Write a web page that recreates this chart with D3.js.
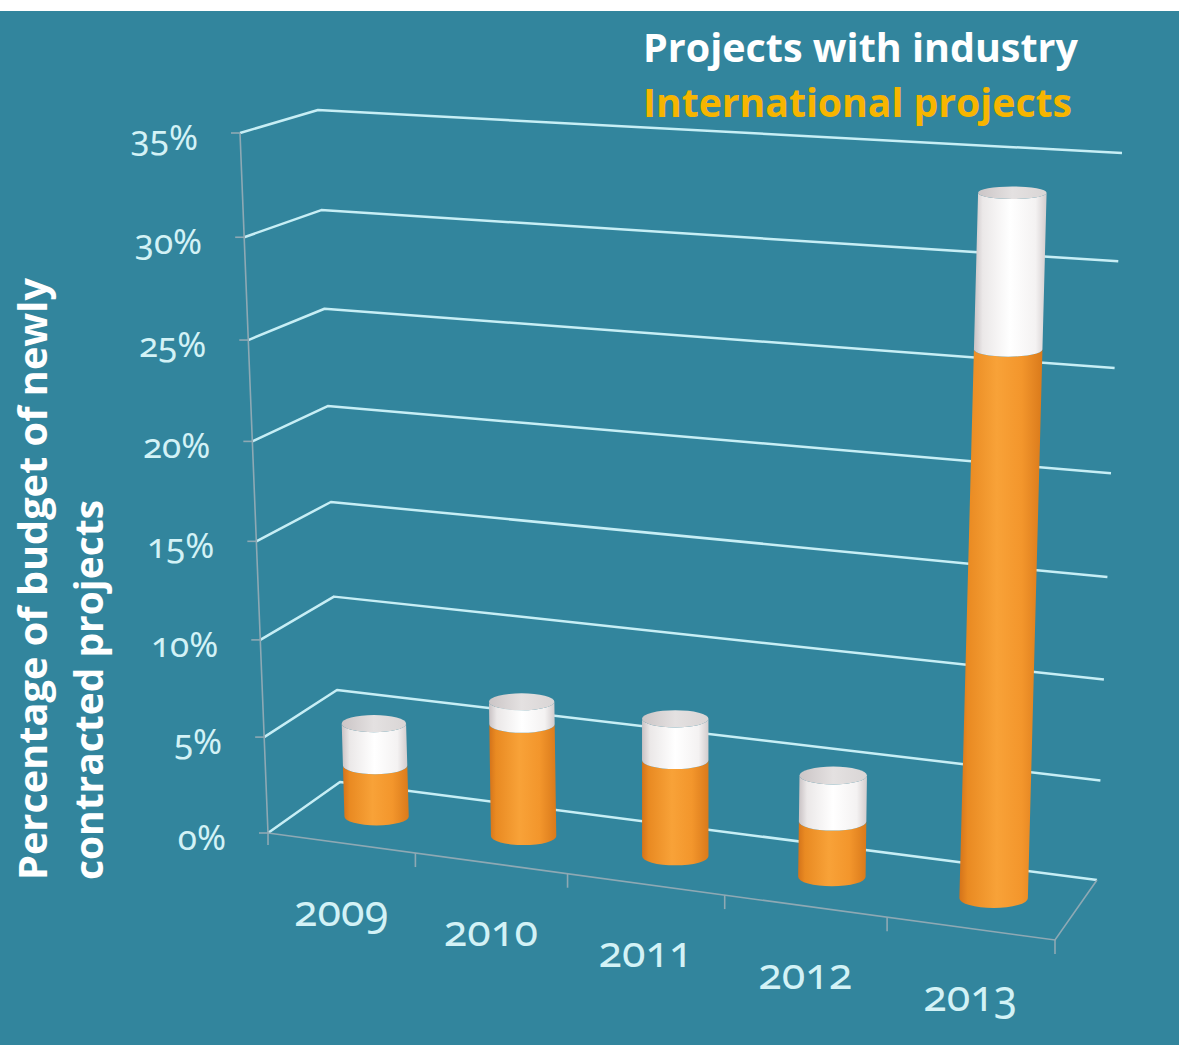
<!DOCTYPE html>
<html>
<head>
<meta charset="utf-8">
<script src="https://cdn.jsdelivr.net/npm/d3@7"></script>
<style>
  html, body { margin: 0; padding: 0; background: #fff; }
  svg { display: block; }
  .num { font-feature-settings: "onum" 1; font-variant-numeric: oldstyle-nums; }
</style>
</head>
<body>
<svg id="chart" width="1179" height="1045"></svg>
<script>
// chart data
const years = ["2009", "2010", "2011", "2012", "2013"];
const international = [2.7, 5.8, 4.9, 2.8, 26.4];   // orange, bottom part
const industry = [2.2, 1.15, 2.1, 2.3, 7.2];        // white, stacked on top
const yTicks = [0, 5, 10, 15, 20, 25, 30, 35];
const yTickLabels = ["0%", "5%", "10%", "15%", "20%", "25%", "30%", "35%"];
const legendLabels = ["Projects with industry", "International projects"];
const axisTitle = ["Percentage of budget of newly", "contracted projects"];

const width = 1179, height = 1045;
const svg = d3.select("#chart");

// background
svg.append("rect").attr("x", 0).attr("y", 11).attr("width", width).attr("height", height - 11)
    .attr("fill", "#32859d");

// square -> quad homography for the tilted floor
function homography(p0, p1, p2, p3) {
    const sx = p0[0] - p1[0] + p2[0] - p3[0], sy = p0[1] - p1[1] + p2[1] - p3[1];
    const dx1 = p1[0] - p2[0], dx2 = p3[0] - p2[0], dy1 = p1[1] - p2[1], dy2 = p3[1] - p2[1];
    const det = dx1 * dy2 - dx2 * dy1;
    const g = (sx * dy2 - dx2 * sy) / det;
    const h = (dx1 * sy - sx * dy1) / det;
    const a = p1[0] - p0[0] + g * p1[0], b = p3[0] - p0[0] + h * p3[0], c = p0[0];
    const d = p1[1] - p0[1] + g * p1[1], e = p3[1] - p0[1] + h * p3[1], f = p0[1];
    return (u, v) => {
        const w = g * u + h * v + 1;
        return [(a * u + b * v + c) / w, (d * u + e * v + f) / w];
    };
}

// floor corners: front-left, front-right, back-right, back-left
const floorCorners = [[268, 833], [1055, 940], [1097, 880], [340, 782]];
// same corners at the 35% level
const topCorners = [[240, 133], [1079, 183], [1122, 153], [318, 110]];
const floorPlane = homography(...floorCorners);
const vert = topCorners.map((p, i) => [p[0] - floorCorners[i][0], p[1] - floorCorners[i][1]]);

// vertical vector at (u, v): bilinear blend of the corner verticals
function vertical(u, v) {
    const w = [(1 - u) * (1 - v), u * (1 - v), u * v, (1 - u) * v];
    return [d3.sum(vert, (p, i) => p[0] * w[i]), d3.sum(vert, (p, i) => p[1] * w[i])];
}

const yScale = d3.scaleLinear().domain([0, 35]).range([0, 1]);
const xScale = d3.scaleBand().domain(years).range([0, 1]);
const persp = 1.05;
const vPersp = t => t / (persp - (persp - 1) * t);

function proj(u, v, val) {
    const t = vPersp(yScale(val));
    const b = floorPlane(u, v), vv = vertical(u, v);
    return [b[0] + vv[0] * t, b[1] + vv[1] * t];
}

const gridColor = "#c7eef5", axisColor = "#8ea9b4";
const line = d3.line();

// gridlines on the left and back walls
svg.append("g").selectAll("path")
    .data(yTicks)
    .join("path")
    .attr("d", d => line([proj(0, 0, d), proj(0, 1, d), proj(1, 1, d)]))
    .attr("fill", "none")
    .attr("stroke", gridColor)
    .attr("stroke-width", 2.5)
    .attr("stroke-linejoin", "round");

// vertical axis, floor edges and ticks
const axisG = svg.append("g").attr("stroke", axisColor).attr("stroke-width", 1.6).attr("fill", "none");
const a0 = proj(0, 0, 0);
axisG.append("path").attr("d", line([[a0[0], a0[1] + 12], a0, proj(0, 0, 35)]));
axisG.selectAll(".ytick").data(yTicks).join("path")
    .attr("class", "ytick")
    .attr("d", d => { const p = proj(0, 0, d); return line([[p[0] - 9, p[1]], p]); });
axisG.append("path").attr("d", line([proj(0, 0, 0), proj(1, 0, 0), proj(1, 1, 0)]));
axisG.selectAll(".xtick").data(d3.range(1, years.length + 1).map(i => i / years.length)).join("path")
    .attr("class", "xtick")
    .attr("d", u => { const p = proj(u, 0, 0); return line([p, [p[0], p[1] + 14]]); });

// gradients
const defs = svg.append("defs");
function hGrad(id, stops) {
    const gr = defs.append("linearGradient").attr("id", id)
        .attr("x1", "0%").attr("x2", "100%").attr("y1", "0%").attr("y2", "0%");
    gr.selectAll("stop").data(stops).join("stop")
        .attr("offset", d => d[0]).attr("stop-color", d => d[1]);
}
hGrad("orangeGrad", [[0, "#d4731a"], [0.1, "#e98a22"], [0.45, "#f8a238"], [0.75, "#f3962c"], [1, "#da7a1b"]]);
hGrad("whiteGrad", [[0, "#c9c2c4"], [0.12, "#ebe8e8"], [0.5, "#ffffff"], [0.85, "#f4f2f2"], [1, "#d2cccd"]]);
hGrad("capGrad", [[0, "#cbc5c6"], [0.5, "#e4e1e1"], [1, "#d9d5d5"]]);

// cylinder helpers
const depth = 0.5;
function ring(u, val) {
    const c = proj(u, depth, val);
    const vv = vertical(u, depth);
    const rx = 0.0465 * Math.hypot(vv[0], vv[1]);
    const ry = rx * (0.28 - 0.1 * vPersp(yScale(val)));
    return { x: c[0], y: c[1], rx, ry };
}
function bodyPath(u, v0, v1) {
    const b = ring(u, v0), t = ring(u, v1);
    return `M${b.x - b.rx},${b.y} L${t.x - t.rx},${t.y} ` +
        `A${t.rx},${t.ry} 0 0 0 ${t.x + t.rx},${t.y} ` +
        `L${b.x + b.rx},${b.y} A${b.rx},${b.ry} 0 0 1 ${b.x - b.rx},${b.y} Z`;
}

const bars = years.map((yr, i) => ({
    year: yr,
    u: xScale(yr) + xScale.bandwidth() / 2,
    intl: international[i],
    ind: industry[i]
}));

const barG = svg.append("g").selectAll("g").data(bars).join("g");
barG.append("path")
    .attr("d", d => bodyPath(d.u, 0, d.intl))
    .attr("fill", "url(#orangeGrad)");
barG.append("path")
    .attr("d", d => bodyPath(d.u, d.intl, d.intl + d.ind))
    .attr("fill", "url(#whiteGrad)");
barG.append("ellipse")
    .each(function (d) {
        const r = ring(d.u, d.intl + d.ind);
        d3.select(this).attr("cx", r.x).attr("cy", r.y).attr("rx", r.rx).attr("ry", r.ry);
    })
    .attr("fill", "url(#capGrad)");

// tick labels
const numFont = "'Noto Sans', Lato, sans-serif";
svg.append("g").selectAll("text").data(yTicks).join("text")
    .attr("class", "num")
    .attr("x", d => proj(0, 0, d)[0] - 42)
    .attr("y", d => proj(0, 0, d)[1] + 17)
    .attr("text-anchor", "end")
    .attr("font-family", numFont)
    .attr("font-size", 35)
    .attr("fill", "#d3f2f6")
    .text((d, i) => yTickLabels[i]);

svg.append("g").selectAll("text").data(bars).join("text")
    .attr("class", "num")
    .attr("x", d => proj(d.u, 0, 0)[0])
    .attr("y", d => proj(d.u, 0, 0)[1] + 83)
    .attr("text-anchor", "middle")
    .attr("font-family", numFont)
    .attr("font-size", 43)
    .attr("fill", "#d3f2f6")
    .text(d => d.year);

// legend
const legFont = "'Open Sans', 'Noto Sans', sans-serif";
svg.append("text").attr("x", 643).attr("y", 62)
    .attr("font-family", legFont).attr("font-weight", "bold").attr("font-size", 39)
    .attr("textLength", 435).attr("lengthAdjust", "spacingAndGlyphs")
    .attr("fill", "#ffffff").text(legendLabels[0]);
svg.append("text").attr("x", 643).attr("y", 117)
    .attr("font-family", legFont).attr("font-weight", "bold").attr("font-size", 39)
    .attr("textLength", 429).attr("lengthAdjust", "spacingAndGlyphs")
    .attr("fill", "#f7b500").text(legendLabels[1]);

// rotated axis title
const titleG = svg.append("g").attr("transform", "translate(0,880) rotate(-90)");
titleG.append("text").attr("x", 0).attr("y", 47)
    .attr("font-family", legFont).attr("font-weight", "bold").attr("font-size", 39)
    .attr("textLength", 602).attr("lengthAdjust", "spacingAndGlyphs")
    .attr("fill", "#ffffff").text(axisTitle[0]);
titleG.append("text").attr("x", 0).attr("y", 103)
    .attr("font-family", legFont).attr("font-weight", "bold").attr("font-size", 39)
    .attr("textLength", 380).attr("lengthAdjust", "spacingAndGlyphs")
    .attr("fill", "#ffffff").text(axisTitle[1]);
</script>
</body>
</html>
